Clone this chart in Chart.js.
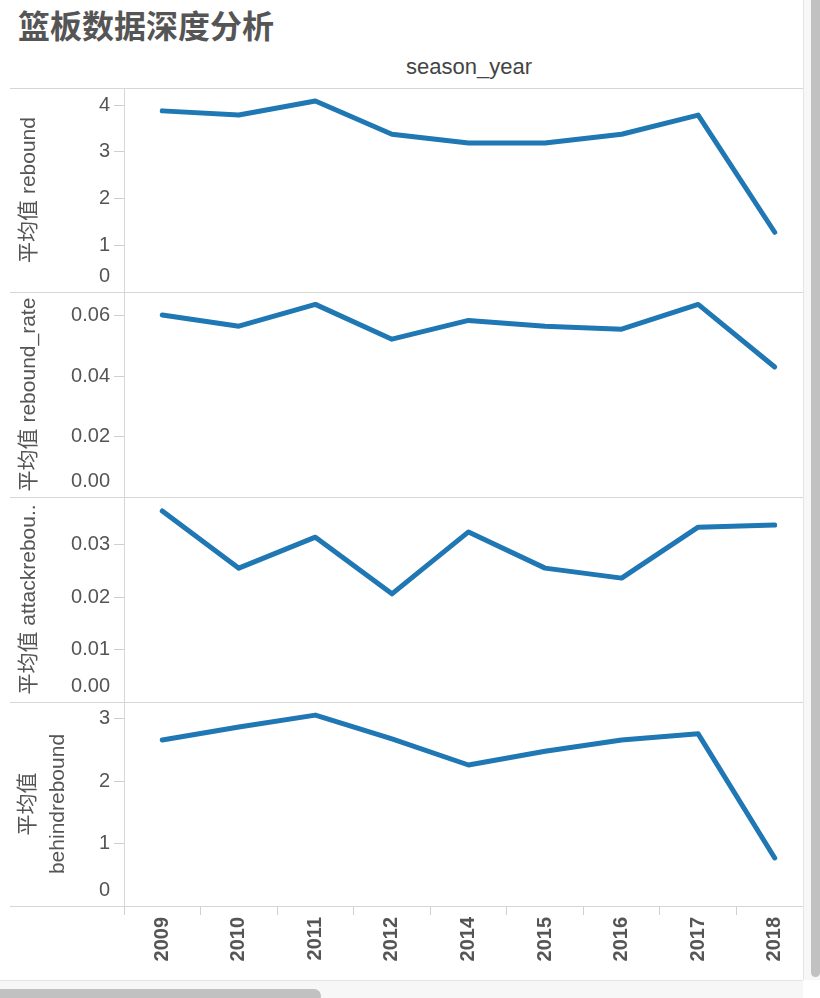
<!DOCTYPE html>
<html>
<head>
<meta charset="utf-8">
<title>篮板数据深度分析</title>
<script src="https://cdn.jsdelivr.net/npm/chart.js@4.4.0/dist/chart.umd.min.js"></script>
<style>
  html, body { margin: 0; padding: 0; background: #fff; }
  #page { position: relative; width: 820px; height: 998px; overflow: hidden;
          font-family: "Liberation Sans", "Noto Sans CJK SC", sans-serif; }
  .title { position: absolute; left: 18px; top: 1px; line-height: 36px;
           font: bold 32px "Noto Sans CJK SC", sans-serif; color: #555; }
  .header { position: absolute; left: 124px; width: 690px; top: 54px; line-height: 26px;
            text-align: center; font-size: 22px; color: #444; }
  .hline { position: absolute; left: 10px; width: 793px; height: 1px; background: #d6d6d6; }
  canvas { position: absolute; left: 0; }
  /* scrollbars (the pane runs on under the vertical one) */
  .vtrack { position: absolute; left: 803px; top: 0; width: 17px; height: 980px; background: #f7f7f7; border-left: 1px solid #e4e4e4; }
  .vthumb { position: absolute; left: 811px; top: 0; width: 9px; height: 977px; background: #c1c1c1; border-radius: 0 0 5px 5px; }
  .htrack { position: absolute; left: 0; top: 980px; width: 803px; height: 18px; background: #f7f7f7; border-top: 1px solid #e4e4e4; }
  .hthumb { position: absolute; left: 0; top: 989px; width: 321px; height: 14px; background: #c1c1c1; border-radius: 0 7px 7px 0; }
</style>
</head>
<body>
<div id="page">
  <div class="title">篮板数据深度分析</div>
  <div class="header">season_year</div>
  <canvas id="c1" width="813" height="204" style="top:88px"></canvas>
  <canvas id="c2" width="813" height="205" style="top:292px"></canvas>
  <canvas id="c3" width="813" height="205" style="top:497px"></canvas>
  <canvas id="c4" width="813" height="274" style="top:702px"></canvas>
  <div class="hline" style="top:88px"></div>
  <div class="hline" style="top:292px"></div>
  <div class="hline" style="top:497px"></div>
  <div class="hline" style="top:702px"></div>
  <div class="hline" style="top:906px"></div>
  <div class="vtrack"></div>
  <div class="vthumb"></div>
  <div class="htrack"></div>
  <div class="hthumb"></div>
</div>
<script>
// data
const years = ['2009', '2010', '2011', '2012', '2014', '2015', '2016', '2017', '2018'];
const reboundAvg = [3.88, 3.79, 4.09, 3.38, 3.19, 3.19, 3.38, 3.79, 1.28];
const reboundRateAvg = [0.0602, 0.0565, 0.0637, 0.0522, 0.0584, 0.0565, 0.0555, 0.0637, 0.0430];
const attackReboundAvg = [0.0364, 0.0255, 0.0314, 0.0206, 0.0324, 0.0255, 0.0236, 0.0333, 0.0337];
const behindReboundAvg = [2.66, 2.87, 3.06, 2.68, 2.26, 2.48, 2.66, 2.76, 0.77];

const reboundTicks = [0, 1, 2, 3, 4];
const reboundRateTicks = [0, 0.02, 0.04, 0.06];
const attackReboundTicks = [0, 0.01, 0.02, 0.03];
const behindReboundTicks = [0, 1, 2, 3];

Chart.defaults.font.family = '"Liberation Sans", "Noto Sans CJK SC", sans-serif';

const LINE = '#1f77b4';
const GRID = '#d6d6d6';

function makePanel(id, values, ticks, max, digits, title, titleFont, titlePad, showX) {
  const fmt = v => v.toFixed(digits);
  new Chart(document.getElementById(id), {
    type: 'line',
    data: {
      labels: years,
      datasets: [{
        data: values,
        borderColor: LINE,
        borderWidth: 5,
        pointRadius: 0,
        tension: 0,
        borderCapStyle: 'round',
        borderJoinStyle: 'round'
      }]
    },
    options: {
      responsive: false,
      animation: false,
      events: [],
      layout: { padding: 0 },
      plugins: { legend: { display: false }, tooltip: { enabled: false } },
      scales: {
        x: {
          display: showX,
          offset: true,
          afterFit: s => {
            if (!showX) return;
            s.height = 70; s.paddingLeft = 0; s.paddingRight = 0;
          },
          grid: { offset: true, drawOnChartArea: false, tickLength: 9, tickColor: '#cfcfcf' },
          border: { color: GRID },
          ticks: {
            autoSkip: false, minRotation: 90, maxRotation: 90, padding: 2,
            color: '#555', font: { size: 20, weight: 'bold' }
          }
        },
        y: {
          min: 0,
          max: max,
          afterBuildTicks: s => { s.ticks = ticks.map(v => ({ value: v })); },
          afterFit: s => { s.width = 124; s.paddingTop = 0; s.paddingBottom = 0; },
          grid: { drawOnChartArea: false, tickLength: 10, tickColor: '#cfcfcf' },
          border: { color: GRID },
          ticks: {
            autoSkip: false, padding: 4, color: '#555',
            font: { size: 20, lineHeight: 1.6 },
            // tableau keeps the zero label inside the pane
            callback: v => v === 0 ? [fmt(0), ''] : fmt(v)
          },
          title: {
            display: true, text: title, color: '#555',
            font: titleFont, padding: { top: titlePad, bottom: 0 }
          }
        }
      }
    }
  });
}

makePanel('c1', reboundAvg, reboundTicks, 4.37, 0, '平均值 rebound', { size: 21 }, 17, false);
makePanel('c2', reboundRateAvg, reboundRateTicks, 0.0678, 2, '平均值 rebound_rate', { size: 21 }, 17, false);
makePanel('c3', attackReboundAvg, attackReboundTicks, 0.03905, 2, '平均值 attackrebou..', { size: 21 }, 17, false);
makePanel('c4', behindReboundAvg, behindReboundTicks, 3.27, 0, ['平均值', 'behindrebound'], { size: 21, lineHeight: '30px' }, 13, true);
</script>
</body>
</html>
